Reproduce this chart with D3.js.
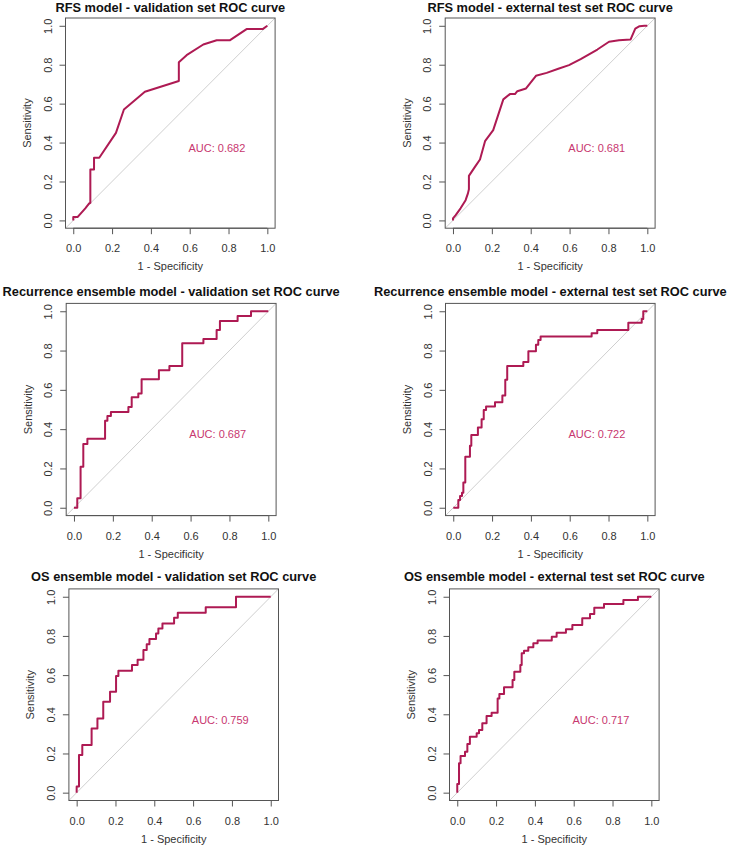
<!DOCTYPE html>
<html>
<head>
<meta charset="utf-8">
<script src="https://cdn.jsdelivr.net/npm/d3@7"></script>
<style>
  html, body { margin: 0; padding: 0; background: #fff; }
  svg { display: block; font-family: "Liberation Sans", Arial, sans-serif; }
</style>
</head>
<body>
<svg id="chart" width="729" height="846"></svg>
<script>
// ---------- data ----------
const titles = [
  "RFS model - validation set ROC curve",
  "RFS model - external test set ROC curve",
  "Recurrence ensemble model - validation set ROC curve",
  "Recurrence ensemble model - external test set ROC curve",
  "OS ensemble model - validation set ROC curve",
  "OS ensemble model - external test set ROC curve"
];
const aucLabels = ["AUC: 0.682", "AUC: 0.681", "AUC: 0.687", "AUC: 0.722", "AUC: 0.759", "AUC: 0.717"];
const tickValues = [0, 0.2, 0.4, 0.6, 0.8, 1.0];
const xTitle = "1 - Specificity";
const yTitle = "Sensitivity";

// RFS model - validation (linear)
const rfsValFpr = [0, 0, 0.022, 0.062, 0.082, 0.088, 0.088, 0.107, 0.107, 0.134, 0.220, 0.261, 0.369, 0.544, 0.544, 0.584, 0.670, 0.739, 0.808, 0.893, 0.976, 1];
const rfsValTpr = [0, 0.017, 0.017, 0.062, 0.087, 0.090, 0.262, 0.262, 0.322, 0.322, 0.450, 0.570, 0.661, 0.716, 0.813, 0.849, 0.904, 0.926, 0.926, 0.983, 0.983, 1];

// RFS model - external test (linear)
const rfsExtFpr = [0, 0, 0.014, 0.039, 0.065, 0.077, 0.082, 0.082, 0.113, 0.139, 0.165, 0.207, 0.259, 0.293, 0.319, 0.331, 0.376, 0.427, 0.482, 0.542, 0.597, 0.657, 0.743, 0.803, 0.854, 0.914, 0.938, 0.960, 0.985, 1];
const rfsExtTpr = [0, 0.010, 0.027, 0.062, 0.104, 0.139, 0.160, 0.229, 0.275, 0.313, 0.407, 0.464, 0.622, 0.649, 0.649, 0.664, 0.678, 0.743, 0.758, 0.779, 0.798, 0.829, 0.878, 0.918, 0.926, 0.930, 0.985, 0.998, 1, 1];

// Recurrence ensemble - validation (step vertices)
const recValFpr = [0, 0.017, 0.034, 0.048, 0.069, 0.160, 0.172, 0.190, 0.280, 0.297, 0.331, 0.348, 0.437, 0.491, 0.557, 0.666, 0.734, 0.751, 0.842, 0.911, 1];
const recValTpr = [0, 0.048, 0.209, 0.324, 0.351, 0.443, 0.467, 0.487, 0.513, 0.562, 0.582, 0.654, 0.700, 0.722, 0.837, 0.859, 0.905, 0.951, 0.976, 1, 1];

// Recurrence ensemble - external test (step vertices)
const recExtFpr = [0, 0.026, 0.035, 0.045, 0.052, 0.062, 0.086, 0.093, 0.127, 0.146, 0.157, 0.169, 0.215, 0.253, 0.268, 0.278, 0.361, 0.387, 0.426, 0.438, 0.450, 0.713, 0.742, 0.902, 0.971, 0.979, 1];
const recExtTpr = [0, 0.039, 0.060, 0.076, 0.129, 0.260, 0.316, 0.370, 0.409, 0.450, 0.498, 0.515, 0.537, 0.571, 0.651, 0.722, 0.742, 0.797, 0.829, 0.854, 0.871, 0.888, 0.905, 0.942, 0.961, 1, 1];

// OS ensemble - validation (step vertices)
const osValFpr = [0, 0, 0.012, 0.029, 0.077, 0.107, 0.137, 0.172, 0.203, 0.215, 0.285, 0.314, 0.344, 0.361, 0.375, 0.409, 0.421, 0.442, 0.502, 0.521, 0.665, 0.821, 1];
const osValTpr = [0, 0.031, 0.192, 0.243, 0.328, 0.379, 0.464, 0.515, 0.595, 0.622, 0.651, 0.679, 0.728, 0.757, 0.784, 0.813, 0.838, 0.864, 0.893, 0.918, 0.946, 1, 1];

// OS ensemble - external test (step vertices)
const osExtFpr = [0, 0, 0.009, 0.017, 0.040, 0.052, 0.065, 0.100, 0.112, 0.129, 0.151, 0.177, 0.208, 0.217, 0.241, 0.285, 0.294, 0.325, 0.332, 0.344, 0.366, 0.392, 0.414, 0.487, 0.512, 0.560, 0.593, 0.644, 0.684, 0.706, 0.756, 0.856, 0.931, 1];
const osExtTpr = [0, 0.044, 0.150, 0.187, 0.209, 0.248, 0.286, 0.303, 0.320, 0.354, 0.391, 0.408, 0.481, 0.503, 0.538, 0.575, 0.617, 0.651, 0.711, 0.724, 0.742, 0.762, 0.776, 0.796, 0.816, 0.834, 0.856, 0.890, 0.912, 0.944, 0.963, 0.983, 1, 1];

const fprSets = [rfsValFpr, rfsExtFpr, recValFpr, recExtFpr, osValFpr, osExtFpr];
const tprSets = [rfsValTpr, rfsExtTpr, recValTpr, recExtTpr, osValTpr, osExtTpr];
const stepped = [false, false, true, true, true, true];

// ---------- layout (plot box of each panel, in pixels) ----------
const boxes = [
  {l: 65.5, r: 275.1, t: 18.0,  b: 228.2, ty: 11.6},
  {l: 445.2, r: 655.1, t: 18.0, b: 228.2, ty: 11.6},
  {l: 66.2, r: 276.1, t: 303.4, b: 515.6, ty: 296.2},
  {l: 445.5, r: 655.1, t: 303.4, b: 515.6, ty: 296.2},
  {l: 68.9, r: 278.5, t: 588.9, b: 800.5, ty: 581.4},
  {l: 449.5, r: 659.1, t: 588.9, b: 800.5, ty: 581.4}
];

const curveColor = "#AE1A53";
const aucColor = "#C8376F";
const boxColor = "#555";
const textColor = "#333";

const svg = d3.select("#chart");
svg.append("rect").attr("width", 729).attr("height", 846).attr("fill", "#fff");

boxes.forEach((bx, i) => {
  const x = d3.scaleLinear().domain([-0.04, 1.04]).range([bx.l, bx.r]);
  const y = d3.scaleLinear().domain([-0.04, 1.04]).range([bx.b, bx.t]);
  const g = svg.append("g");

  const clipId = "clip" + i;
  g.append("clipPath").attr("id", clipId)
    .append("rect").attr("x", bx.l).attr("y", bx.t)
    .attr("width", bx.r - bx.l).attr("height", bx.b - bx.t);

  // diagonal reference line
  g.append("line")
    .attr("x1", x(-0.04)).attr("y1", y(-0.04))
    .attr("x2", x(1.04)).attr("y2", y(1.04))
    .attr("stroke", "#cfcfcf").attr("stroke-width", 1)
    .attr("clip-path", `url(#${clipId})`);

  // ROC curve
  const pts = fprSets[i].map((v, k) => [v, tprSets[i][k]]);
  const line = d3.line()
    .x(d => x(d[0])).y(d => y(d[1]))
    .curve(stepped[i] ? d3.curveStepAfter : d3.curveLinear);
  g.append("path").datum(pts)
    .attr("d", line)
    .attr("fill", "none")
    .attr("stroke", curveColor)
    .attr("stroke-width", 2)
    .attr("stroke-linejoin", "round");

  // box
  g.append("rect")
    .attr("x", bx.l).attr("y", bx.t)
    .attr("width", bx.r - bx.l).attr("height", bx.b - bx.t)
    .attr("fill", "none").attr("stroke", boxColor).attr("stroke-width", 1);

  // x axis
  const xa = g.append("g").attr("transform", `translate(0,${bx.b})`)
    .call(d3.axisBottom(x).tickValues(tickValues).tickFormat(d3.format(".1f"))
      .tickSize(6).tickPadding(10.2));
  xa.select(".domain").remove();
  xa.selectAll(".tick line").attr("stroke", boxColor);
  xa.selectAll(".tick text").attr("fill", textColor).attr("font-size", 11)
    .attr("font-family", '"Liberation Sans", Arial, sans-serif');
  xa.append("line").attr("x1", x(0)).attr("x2", x(1)).attr("y1", 0).attr("y2", 0)
    .attr("stroke", boxColor);

  // y axis
  const ya = g.append("g").attr("transform", `translate(${bx.l},0)`)
    .call(d3.axisLeft(y).tickValues(tickValues).tickFormat(d3.format(".1f"))
      .tickSize(6));
  ya.select(".domain").remove();
  ya.selectAll(".tick line").attr("stroke", boxColor);
  ya.selectAll(".tick text")
    .attr("fill", textColor).attr("font-size", 11)
    .attr("font-family", '"Liberation Sans", Arial, sans-serif')
    .attr("text-anchor", "middle")
    .attr("transform", "rotate(-90)")
    .attr("x", 0).attr("y", -14).attr("dy", 0);

  // axis titles
  g.append("text")
    .attr("x", (bx.l + bx.r) / 2).attr("y", bx.b + 42)
    .attr("text-anchor", "middle").attr("font-size", 11).attr("fill", textColor)
    .text(xTitle);
  g.append("text")
    .attr("transform", `translate(${bx.l - 34.5},${(bx.t + bx.b) / 2}) rotate(-90)`)
    .attr("text-anchor", "middle").attr("font-size", 11).attr("fill", textColor)
    .text(yTitle);

  // title
  g.append("text")
    .attr("x", (bx.l + bx.r) / 2).attr("y", bx.ty)
    .attr("text-anchor", "middle").attr("font-size", 12.8).attr("font-weight", "bold")
    .attr("fill", "#111")
    .text(titles[i]);

  // AUC label
  g.append("text")
    .attr("x", x(0.74)).attr("y", y(0.373) + 4)
    .attr("text-anchor", "middle").attr("font-size", 11).attr("fill", aucColor)
    .text(aucLabels[i]);
});
</script>
</body>
</html>
